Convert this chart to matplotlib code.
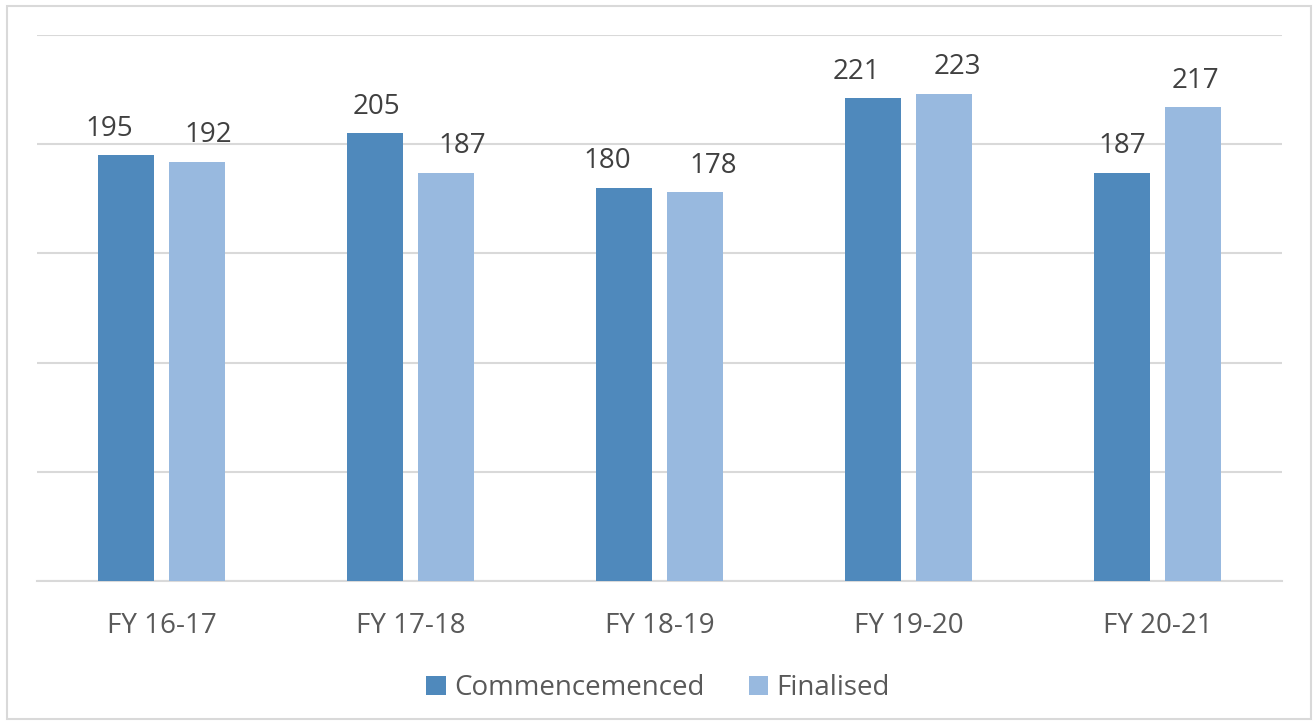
import numpy as np
import matplotlib
matplotlib.use('Agg')
import matplotlib.pyplot as plt
from matplotlib.patches import Rectangle

# Chart data
years = ['FY 16-17', 'FY 17-18', 'FY 18-19', 'FY 19-20', 'FY 20-21']
commenced = [195, 205, 180, 221, 187]
finalised = [192, 187, 178, 223, 217]

# horizontal nudges of the value labels (points), as placed in the original
nudge_c = [-12, 1, -12, -12, 0]
nudge_f = [8, 12, 13, 10, 2]

dark = '#4f89bc'
light = '#98b9df'
fs = 20

plt.rcParams['font.family'] = ['Open Sans', 'DejaVu Sans']

fig = plt.figure(figsize=(13.16, 7.24), dpi=100)
ax = fig.add_axes([0.0281, 0.1975, 0.9461, 0.7542])

# light grey frame around the whole chart
fig.patches.append(Rectangle((7/1316, 5/724), 1304/1316, 713/724, transform=fig.transFigure,
                             fill=False, edgecolor='#d9d9d9', linewidth=1.5))

x = np.arange(len(years))
w = 0.225
b1 = ax.bar(x - 0.142, commenced, w, color=dark, label='Commencemenced', zorder=3)
b2 = ax.bar(x + 0.142, finalised, w, color=light, label='Finalised', zorder=3)

for bars, nud in ((b1, nudge_c), (b2, nudge_f)):
    for r, dx in zip(bars, nud):
        ax.annotate('{0}'.format(int(r.get_height())),
                    (r.get_x() + r.get_width()/2, r.get_height()),
                    xytext=(dx, 9), textcoords='offset points',
                    ha='center', va='bottom', fontsize=fs, color='#404040')

ax.set_xlim(-0.5, len(years) - 0.5)
ax.set_ylim(0, 250)
ax.set_yticks([0, 50, 100, 150, 200, 250])
ax.yaxis.grid(True, color='#d9d9d9', linewidth=1.5, zorder=0)
ax.tick_params(axis='y', left=False, labelleft=False)
ax.tick_params(axis='x', length=0, pad=22, labelsize=fs, labelcolor='#595959')
ax.set_xticks(x)
ax.set_xticklabels(years)
for s in ['top', 'right', 'left']:
    ax.spines[s].set_visible(False)
ax.spines['bottom'].set_color('#d9d9d9')
ax.spines['bottom'].set_linewidth(1.5)

leg = fig.legend(loc='center', bbox_to_anchor=(0.5, 1 - 688/724), ncol=2, frameon=False,
                 fontsize=fs, handlelength=0.7, handleheight=0.7, handletextpad=0.3,
                 columnspacing=1.6)
for t in leg.get_texts():
    t.set_color('#595959')

plt.savefig('out.png', dpi=100)
